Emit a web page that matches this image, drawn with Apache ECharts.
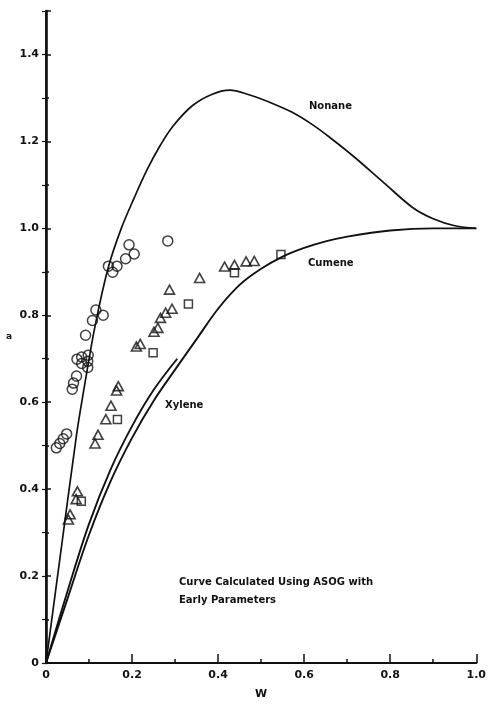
<!DOCTYPE html>
<html>
<head>
<meta charset="utf-8">
<script src="https://cdn.jsdelivr.net/npm/echarts@6/dist/echarts.min.js"></script>
<style>
  html, body { margin: 0; padding: 0; background: #fff; }
  #chart { width: 489px; height: 705px; }
</style>
</head>
<body>
<div id="chart"></div>
<script>
// curves, [w, a]
var nonaneCurve = [
  [0, 0], [0.035, 0.26], [0.071, 0.525], [0.087, 0.623], [0.114, 0.775], [0.145, 0.911],
  [0.175, 1.0], [0.205, 1.07], [0.235, 1.135], [0.265, 1.19], [0.295, 1.235],
  [0.34, 1.282], [0.385, 1.308], [0.427, 1.318], [0.47, 1.308], [0.52, 1.29], [0.57, 1.268],
  [0.62, 1.238], [0.665, 1.205], [0.713, 1.167], [0.783, 1.107], [0.852, 1.048], [0.9, 1.022],
  [0.95, 1.006], [1.0, 1.0]
];
var cumeneCurve = [
  [0, 0], [0.05, 0.148], [0.1, 0.295], [0.15, 0.418], [0.2, 0.518], [0.25, 0.603], [0.3, 0.675],
  [0.35, 0.745], [0.4, 0.815], [0.45, 0.87], [0.5, 0.907], [0.55, 0.935], [0.6, 0.955],
  [0.65, 0.97], [0.7, 0.981], [0.8, 0.995], [0.9, 1.0], [1.0, 1.0]
];
var xyleneCurve = [
  [0, 0], [0.05, 0.165], [0.1, 0.32], [0.15, 0.445], [0.2, 0.545], [0.25, 0.628], [0.305, 0.70]
];

// measured points
var nonanePts = [
  [0.024, 0.495], [0.032, 0.505], [0.040, 0.516], [0.048, 0.527],
  [0.061, 0.630], [0.064, 0.644], [0.071, 0.660], [0.072, 0.699], [0.083, 0.704], [0.083, 0.689],
  [0.098, 0.708], [0.097, 0.694], [0.097, 0.680], [0.092, 0.754], [0.108, 0.788], [0.116, 0.812],
  [0.133, 0.800], [0.145, 0.913], [0.155, 0.899], [0.165, 0.913], [0.185, 0.930], [0.193, 0.962],
  [0.205, 0.941], [0.283, 0.971]
];
var cumenePts = [
  [0.052, 0.33], [0.056, 0.342], [0.070, 0.377], [0.073, 0.395], [0.114, 0.505], [0.121, 0.525],
  [0.139, 0.561], [0.151, 0.592], [0.164, 0.627], [0.168, 0.637], [0.210, 0.728], [0.219, 0.734],
  [0.251, 0.762], [0.260, 0.771], [0.266, 0.794], [0.278, 0.806], [0.293, 0.815], [0.287, 0.859],
  [0.357, 0.886], [0.415, 0.912], [0.438, 0.916], [0.465, 0.924], [0.484, 0.925]
];
var xylenePts = [
  [0.082, 0.372], [0.166, 0.560], [0.249, 0.714], [0.331, 0.826], [0.438, 0.898], [0.546, 0.94]
];

var ink = '#111';
var font = 'DejaVu Sans';

var chart = echarts.init(document.getElementById('chart'), null, {renderer: 'canvas'});

function lbl(v) {
  if (v === 0) return '0';
  if (v > 1.45) return '';
  return v.toFixed(1);
}

var option = {
  animation: false,
  backgroundColor: '#fff',
  grid: {left: 46, right: 12, top: 11, bottom: 34, containLabel: false},
  xAxis: [
    {
      type: 'value', min: 0, max: 1, interval: 0.2, position: 'bottom',
      name: 'W', nameLocation: 'middle', nameGap: 26,
      nameTextStyle: {color: ink, fontFamily: font, fontWeight: 'bold', fontSize: 11},
      axisLine: {lineStyle: {color: ink, width: 2.2}},
      axisTick: {inside: true, length: 9, lineStyle: {color: ink, width: 1.5}},
      axisLabel: {color: ink, fontFamily: font, fontWeight: 'bold', fontSize: 11, margin: 7, formatter: lbl},
      splitLine: {show: false}
    },
    {
      type: 'value', min: 0, max: 1, interval: 0.1, position: 'bottom',
      axisLine: {show: false},
      axisTick: {inside: true, length: 4, lineStyle: {color: ink, width: 1.5}},
      axisLabel: {show: false},
      splitLine: {show: false}
    },
    {
      type: 'value', min: 0, max: 1, position: 'top',
      axisLine: {lineStyle: {color: ink, width: 1.5}},
      axisTick: {show: false}, axisLabel: {show: false}, splitLine: {show: false}
    }
  ],
  yAxis: [
    {
      type: 'value', min: 0, max: 1.5, interval: 0.2, position: 'left',
      name: 'a', nameLocation: 'middle', nameGap: 34, nameRotate: 0,
      nameTextStyle: {color: ink, fontFamily: font, fontWeight: 'bold', fontSize: 9},
      axisLine: {lineStyle: {color: ink, width: 2.6}},
      axisTick: {inside: true, length: 5, lineStyle: {color: ink, width: 1.5}},
      axisLabel: {color: ink, fontFamily: font, fontWeight: 'bold', fontSize: 11, margin: 7, formatter: lbl},
      splitLine: {show: false}
    },
    {
      type: 'value', min: 0, max: 1.5, interval: 0.1, position: 'left',
      axisLine: {show: false},
      axisTick: {inside: true, length: 3, lineStyle: {color: ink, width: 1.5}},
      axisLabel: {show: false}, splitLine: {show: false}
    },
    {
      type: 'value', min: 0, max: 1.5, interval: 0.1, position: 'right',
      axisLine: {lineStyle: {color: ink, width: 1.6}},
      axisTick: {inside: true, length: 4, lineStyle: {color: ink, width: 1.2}},
      axisLabel: {show: false}, splitLine: {show: false}
    }
  ],
  series: [
    {
      name: 'Nonane', type: 'line', data: nonaneCurve, showSymbol: false,
      smooth: 0.35,
      lineStyle: {color: ink, width: 1.7}
    },
    {
      name: 'Cumene', type: 'line', data: cumeneCurve, showSymbol: false,
      smooth: 0.35,
      lineStyle: {color: ink, width: 1.9}
    },
    {
      name: 'Xylene', type: 'line', data: xyleneCurve, showSymbol: false,
      smooth: 0.35,
      lineStyle: {color: ink, width: 1.9}
    },
    {
      type: 'scatter', data: nonanePts, symbol: 'circle', symbolSize: 10,
      itemStyle: {color: 'rgba(0,0,0,0)', borderColor: ink, borderWidth: 1.5}
    },
    {
      type: 'scatter', data: cumenePts, symbol: 'triangle', symbolSize: [10, 9],
      itemStyle: {color: 'rgba(0,0,0,0)', borderColor: ink, borderWidth: 1.6}
    },
    {
      type: 'scatter', data: xylenePts, symbol: 'rect', symbolSize: 8,
      itemStyle: {color: 'rgba(0,0,0,0)', borderColor: ink, borderWidth: 1.5}
    }
  ],
  graphic: [
    {type: 'text', left: 309, top: 101, style: {text: 'Nonane', fill: ink, font: 'bold 10px "DejaVu Sans"'}},
    {type: 'text', left: 308, top: 258, style: {text: 'Cumene', fill: ink, font: 'bold 10px "DejaVu Sans"'}},
    {type: 'text', left: 165, top: 400, style: {text: 'Xylene', fill: ink, font: 'bold 10px "DejaVu Sans"'}},
    {type: 'text', left: 179, top: 577, style: {text: 'Curve Calculated Using ASOG with', fill: ink, font: 'bold 10px "DejaVu Sans"'}},
    {type: 'text', left: 179, top: 595, style: {text: 'Early Parameters', fill: ink, font: 'bold 10px "DejaVu Sans"'}}
  ]
};

chart.setOption(option);
</script>
</body>
</html>
